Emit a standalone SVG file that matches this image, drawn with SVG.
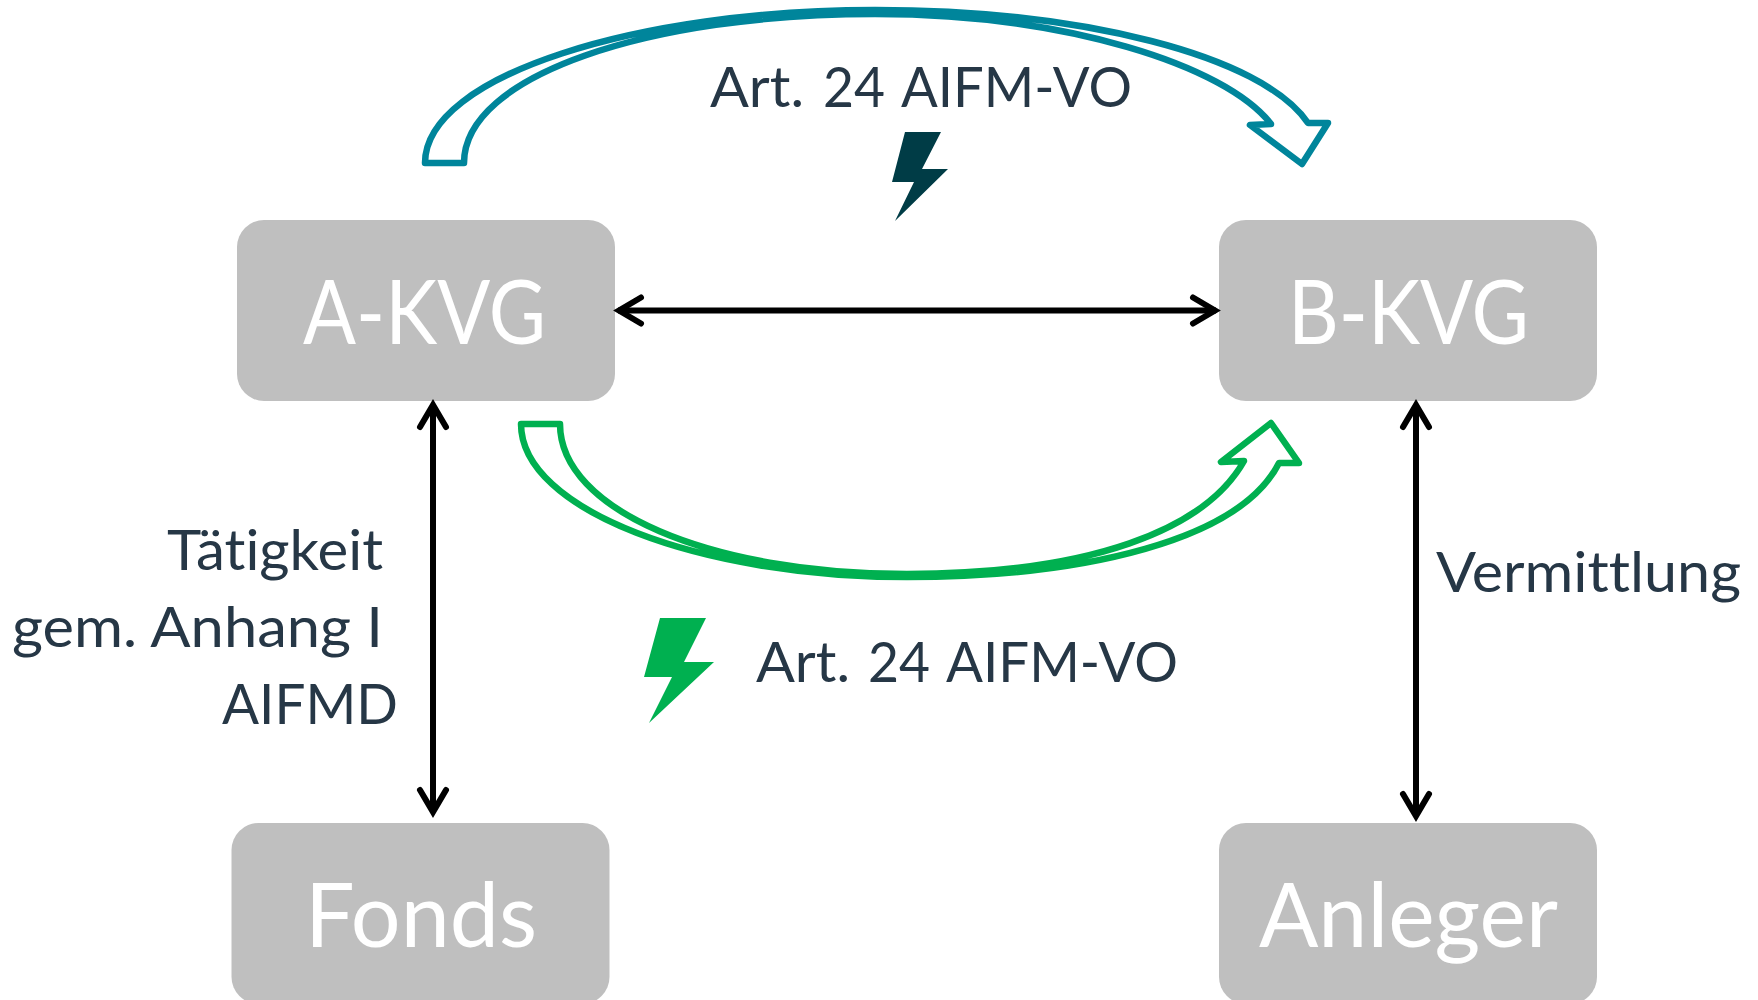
<svg xmlns="http://www.w3.org/2000/svg" width="1758" height="1000" viewBox="0 0 1758 1000">
<style>
text{font-variant-ligatures:none}
.box{fill:#bfbfbf}
.nt{font-family:Lato,"Open Sans",sans-serif;font-size:90px;fill:#fff}
.lb{font-family:Lato,"Open Sans",sans-serif;font-size:57px;fill:#263746}
.dbl{fill:none;stroke:#000;stroke-width:6;marker-start:url(#ah);marker-end:url(#ah)}
.ta{fill:#fff;stroke:#00859b;stroke-width:6.5;stroke-linejoin:round}
.ga{fill:#fff;stroke:#00b050;stroke-width:6.5;stroke-linejoin:round}
</style>
<defs>
<marker id="ah" markerUnits="userSpaceOnUse" markerWidth="40" markerHeight="40" refX="30" refY="20" orient="auto-start-reverse">
<path d="M7,7 L29,20 L7,33" fill="none" stroke="#000" stroke-width="6" stroke-linecap="round" stroke-linejoin="miter"/>
</marker>
</defs>
<rect width="1758" height="1000" fill="#fff"/>
<g id="node-a-kvg"><rect class="box" x="237" y="220" width="378" height="181" rx="27"/><text class="nt" x="303" y="344" textLength="243" lengthAdjust="spacingAndGlyphs">A-KVG</text></g>
<g id="node-b-kvg"><rect class="box" x="1219" y="220" width="378" height="181" rx="27"/><text class="nt" x="1288" y="344" textLength="241" lengthAdjust="spacingAndGlyphs">B-KVG</text></g>
<g id="node-fonds"><rect class="box" x="231.500" y="823" width="378" height="181" rx="27"/><text class="nt" x="305" y="947" textLength="232" lengthAdjust="spacingAndGlyphs">Fonds</text></g>
<g id="node-anleger"><rect class="box" x="1219" y="823" width="378" height="181" rx="27"/><text class="nt" x="1259" y="947" textLength="299" lengthAdjust="spacingAndGlyphs">Anleger</text></g>
<g id="connectors">
<path class="dbl" d="M618,310.500 H1216"/>
<path class="dbl" d="M433,404 V813"/>
<path class="dbl" d="M1416,404 V817"/>
<path id="arrow-teal" class="ta" d="M425,163 C425,75 640,10 875,10 C1080,10 1262,55 1308,123 H1328 L1302,164 L1250,125 L1271,124 C1225,65 1065,14 875,14 C650,14 464,75 464,163 Z"/>
<path id="arrow-green" class="ga" d="M521,424 C521,510 700,577 907,577 C1085,577 1240,540 1279,463 H1299 L1271,423 L1221,462 L1244,461 C1205,530 1090,574 907,574 C710,574 560,510 560,424 Z"/>
</g>
<g id="bolt-teal"><polygon points="905,132 941,132 922,169 948,169 895,221 914,182 892,182" fill="#003c46"/></g>
<g id="bolt-green"><polygon points="660,618 706,618 684,662 714,662 649,723 672,677 644,677" fill="#00b050"/></g>
<g id="labels">
<text class="lb" y="107"><tspan x="710" textLength="94" lengthAdjust="spacingAndGlyphs">Art.</tspan><tspan x="823" textLength="62" lengthAdjust="spacingAndGlyphs">24</tspan><tspan x="901" textLength="231" lengthAdjust="spacingAndGlyphs">AIFM-VO</tspan></text>
<text class="lb" y="682"><tspan x="756" textLength="94" lengthAdjust="spacingAndGlyphs">Art.</tspan><tspan x="868" textLength="62" lengthAdjust="spacingAndGlyphs">24</tspan><tspan x="946" textLength="232" lengthAdjust="spacingAndGlyphs">AIFM-VO</tspan></text>
<text class="lb" x="167" y="570" textLength="216" lengthAdjust="spacingAndGlyphs">Tätigkeit</text>
<text class="lb" x="12" y="647" textLength="371" lengthAdjust="spacingAndGlyphs">gem. Anhang I</text>
<text class="lb" x="222" y="724" textLength="176" lengthAdjust="spacingAndGlyphs">AIFMD</text>
<text class="lb" x="1436" y="592" textLength="305" lengthAdjust="spacingAndGlyphs">Vermittlung</text>
</g>
</svg>
